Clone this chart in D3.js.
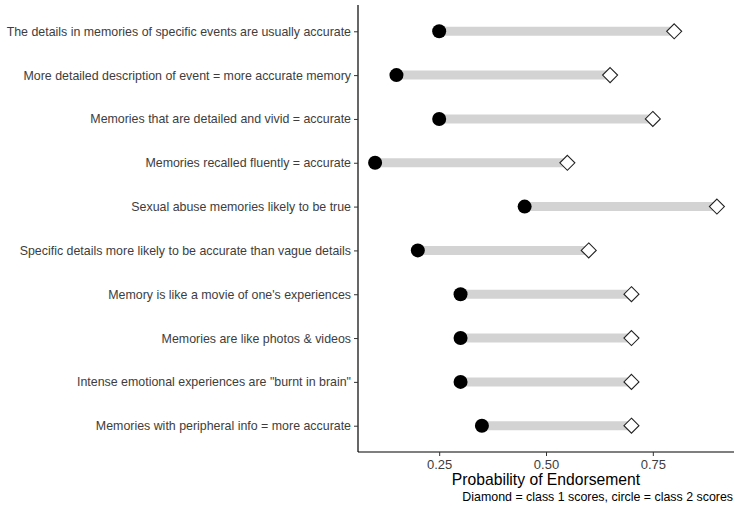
<!DOCTYPE html>
<html><head><meta charset="utf-8">
<script src="https://cdn.jsdelivr.net/npm/d3@7"></script>
<style>body{margin:0;background:#fff}svg{display:block}</style>
</head><body>
<svg id="c" width="735" height="506"></svg>
<script>
const categories = [
  "The details in memories of specific events are usually accurate",
  "More detailed description of event = more accurate memory",
  "Memories that are detailed and vivid = accurate",
  "Memories recalled fluently = accurate",
  "Sexual abuse memories likely to be true",
  "Specific details more likely to be accurate than vague details",
  "Memory is like a movie of one's experiences",
  "Memories are like photos & videos",
  "Intense emotional experiences are \"burnt in brain\"",
  "Memories with peripheral info = more accurate"
];
const class1 = [0.80, 0.65, 0.75, 0.55, 0.90, 0.60, 0.70, 0.70, 0.70, 0.70]; // diamonds
const class2 = [0.25, 0.15, 0.25, 0.10, 0.45, 0.20, 0.30, 0.30, 0.30, 0.35]; // circles
const xTicks = [0.25, 0.50, 0.75];

(function(){
const svg = d3.select("#c");
const pL = 358, pR = 734, pT = 5, pB = 452;
const x = d3.scaleLinear().domain([0.06, 0.94]).range([pL, pR]);
const y = d3.scalePoint().domain(categories).range([pT, pB]).padding(0.6);

const font = "Liberation Sans, Arial, sans-serif";

svg.append("g").selectAll("line").data(categories).join("line")
  .attr("x1", (d,i) => x(class2[i])).attr("x2", (d,i) => x(class1[i]))
  .attr("y1", d => y(d)).attr("y2", d => y(d))
  .attr("stroke", "#d3d3d3").attr("stroke-width", 9);

const ds = 7.5;
svg.append("g").selectAll("path").data(categories).join("path")
  .attr("d", (d,i) => {
    const cx = x(class1[i]), cy = y(d);
    return `M${cx},${cy-ds}L${cx+ds},${cy}L${cx},${cy+ds}L${cx-ds},${cy}Z`;
  })
  .attr("fill", "#fff").attr("stroke", "#222").attr("stroke-width", 1.1);

svg.append("g").selectAll("circle").data(categories).join("circle")
  .attr("cx", (d,i) => x(class2[i])).attr("cy", d => y(d)).attr("r", 7)
  .attr("fill", "#000");

const yAxis = svg.append("g").attr("transform", `translate(${pL},0)`)
  .call(d3.axisLeft(y).tickSize(4).tickPadding(3));
yAxis.select(".domain").attr("d", `M0,${pT}V${pB}`).attr("stroke", "#000").attr("stroke-width", 1.2);
yAxis.selectAll(".tick line").attr("stroke", "#333");
yAxis.selectAll(".tick text").attr("fill", "#3d3d3d").style("font-family", font).style("font-size", "12.4px");

const xAxis = svg.append("g").attr("transform", `translate(0,${pB})`)
  .call(d3.axisBottom(x).tickValues(xTicks).tickFormat(d3.format(".2f")).tickSize(4).tickPadding(4));
xAxis.select(".domain").attr("d", `M${pL},0H${pR}`).attr("stroke", "#000").attr("stroke-width", 1.2);
xAxis.selectAll(".tick line").attr("stroke", "#333");
xAxis.selectAll(".tick text").attr("fill", "#3d3d3d").style("font-family", font).style("font-size", "13px");

svg.append("text").attr("x", (pL+pR)/2).attr("y", 485).attr("text-anchor", "middle")
  .style("font-family", font).style("font-size", "15.7px").attr("fill", "#000")
  .text("Probability of Endorsement");
svg.append("text").attr("x", 733).attr("y", 501).attr("text-anchor", "end")
  .style("font-family", font).style("font-size", "12.4px").attr("fill", "#000")
  .text("Diamond = class 1 scores, circle = class 2 scores");
})();
</script>
</body></html>
